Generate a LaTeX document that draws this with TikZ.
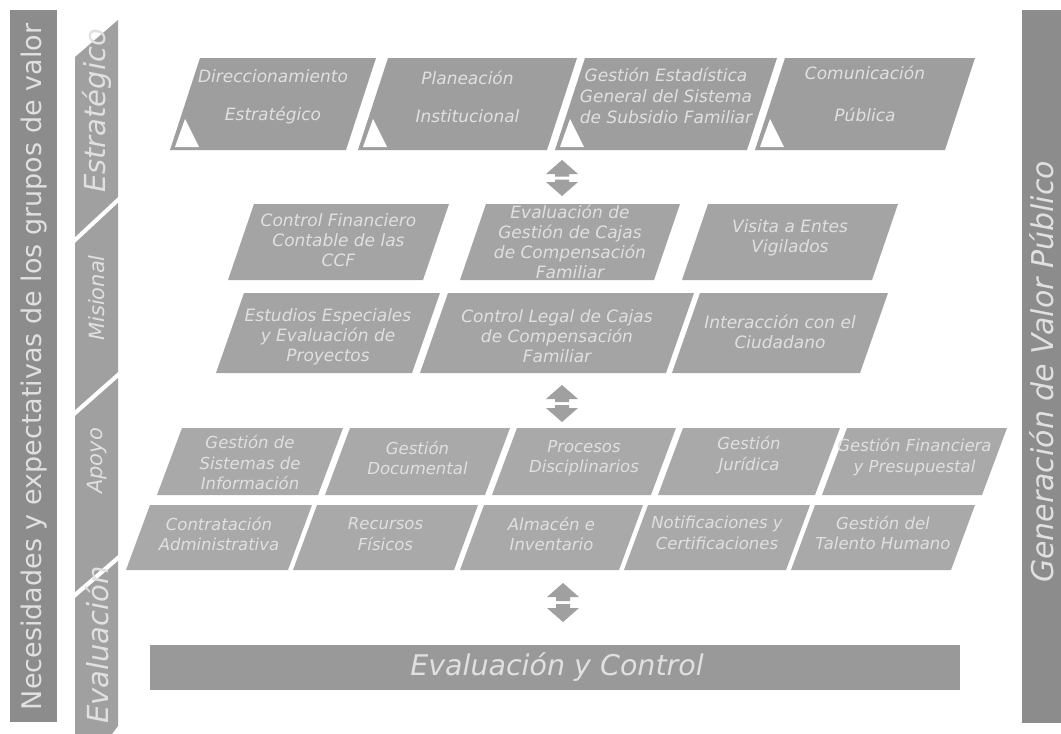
\documentclass[tikz,border=0pt]{standalone}
\usepackage{fontspec}
\setmainfont{DejaVu Sans}
\usetikzlibrary{calc}
\definecolor{sidebar}{HTML}{8C8C8C}
\definecolor{catbar}{HTML}{A0A0A0}
\definecolor{boxtop}{HTML}{9E9E9E}
\definecolor{boxmid}{HTML}{A4A4A4}
\definecolor{boxlow}{HTML}{A9A9A9}
\definecolor{evalbar}{HTML}{999999}
\definecolor{txtlight}{HTML}{E0E0E0}
\tikzset{
  boxtxt/.style={text=txtlight, font=\itshape\fontsize{17}{20}\selectfont, align=center, inner sep=0pt},
  lowtxt/.style={text=txtlight, font=\itshape\fontsize{16.5}{20.5}\selectfont, align=center, inner sep=0pt},
  cattxt/.style={text=txtlight, font=\itshape\fontsize{21}{24}\selectfont, rotate=90, inner sep=0pt},
  bigcattxt/.style={text=txtlight, font=\itshape\fontsize{29}{30}\selectfont, rotate=90, inner sep=0pt},
  sidetxt/.style={text=txtlight, font=\fontsize{27}{29}\selectfont, rotate=90, inner sep=0pt},
  rsidetxt/.style={text=txtlight, font=\itshape\fontsize{30}{32}\selectfont, rotate=90, inner sep=0pt},
  evaltxt/.style={text=txtlight, font=\itshape\fontsize{28.5}{30}\selectfont, inner sep=0pt},
}
% #1 name, #2 TL x, #3 TR x, #4 BL x, #5 BR x, #6 y top, #7 y bottom, #8 text centre y, #9 text
\newcommand\pgram[9]{%
  \fill[fillcol] (#2,#6) -- (#3,#6) -- (#5,#7) -- (#4,#7) -- cycle;
  \node[txtstyle] (#1) at ({(#2+#3+#4+#5)/4},#8) {#9};
}
% double arrow: #1 name, #2 x, #3 y top, #4 y bottom
\newcommand\dblarrow[4]{%
  \coordinate (#1) at (#2,{(#3+#4)/2});
  \fill[catbar] (#2,#3) -- ($(#2,#3)+(16,14)$) -- ($(#2,#3)+(7,14)$) -- ($(#1)+(7,-1.5)$)
     -- ($(#1)+(-7,-1.5)$) -- ($(#2,#3)+(-7,14)$) -- ($(#2,#3)+(-16,14)$) -- cycle;
  \fill[catbar] (#2,#4) -- ($(#2,#4)+(16,-14)$) -- ($(#2,#4)+(7,-14)$) -- ($(#1)+(7,1.5)$)
     -- ($(#1)+(-7,1.5)$) -- ($(#2,#4)+(-7,-14)$) -- ($(#2,#4)+(-16,-14)$) -- cycle;
}
\begin{document}
\begin{tikzpicture}[x=1pt,y=-1pt]
\useasboundingbox (0,0) rectangle (1061,734);
\fill[white] (0,0) rectangle (1061,734);

% left side bar
\fill[sidebar] (10,10) rectangle (57,722);
\node[sidetxt] (needs) at (34,367) {Necesidades y expectativas de los grupos de valor};

% right side bar
\fill[sidebar] (1022,10) rectangle (1061,723);
\node[rsidetxt] (value) at (1042,372) {Generación de Valor Público};

% category bars
\fill[catbar] (75,57) -- (118,20) -- (118,197) -- (75,237) -- cycle;
\fill[catbar] (75,243) -- (118,203) -- (118,372) -- (75,410) -- cycle;
\fill[catbar] (75,416) -- (118,378) -- (118,555) -- (75,592) -- cycle;
\fill[catbar] (75,598) -- (118,561) -- (118,726) -- (112,734) -- (75,734) -- cycle;
\node[bigcattxt] (cest) at (97,111) {Estratégico};
\node[cattxt] (cmis) at (97,298) {Misional};
\node[cattxt] (capo) at (97,461) {Apoyo};
\node[bigcattxt] (ceva) at (97,645) {Evaluación};

% strategic row
\tikzset{fillcol/.style={fill=boxtop}, txtstyle/.style={boxtxt, font=\itshape\fontsize{17}{38}\selectfont}}
\pgram{dir}{200}{376}{170}{346}{58}{150}{97}{Direccionamiento\\Estratégico}
\pgram{pla}{388}{577}{358}{547}{58}{150}{97}{Planeación\\Institucional}
\tikzset{txtstyle/.style={boxtxt, font=\itshape\fontsize{17}{21}\selectfont}}
\pgram{gest}{585}{777}{555}{747}{58}{150}{96}{Gestión Estadística\\General del Sistema\\de Subsidio Familiar}
\tikzset{txtstyle/.style={boxtxt, font=\itshape\fontsize{17}{42}\selectfont}}
\pgram{com}{785}{975}{755}{945}{58}{150}{94}{Comunicación\\Pública}
\foreach \bl in {170,358,555,755}{
  \fill[white] (\bl+5,147) -- (\bl+29,147) -- (\bl+15,119) -- cycle;
}

% misional rows
\tikzset{fillcol/.style={fill=boxmid}, txtstyle/.style={boxtxt}}
\pgram{cfin}{254}{449}{228}{423}{204}{280}{240}{Control Financiero\\Contable de las\\CCF}
\pgram{evg}{486}{680}{460}{654}{204}{280}{242}{Evaluación de\\Gestión de Cajas\\de Compensación\\Familiar}
\pgram{vis}{708}{898}{682}{872}{204}{280}{238}{Visita a Entes\\Vigilados}
\pgram{est}{244}{440}{216}{412}{293}{373}{337}{Estudios Especiales\\y Evaluación de\\Proyectos}
\pgram{cleg}{448}{694}{420}{666}{293}{373}{336}{Control Legal de Cajas\\de Compensación\\Familiar}
\pgram{int}{700}{888}{672}{860}{293}{373}{332}{Interacción con el\\Ciudadano}

% apoyo rows
\tikzset{fillcol/.style={fill=boxlow}, txtstyle/.style={lowtxt}}
\pgram{gsi}{182}{343}{157}{318}{428}{495}{463}{Gestión de\\Sistemas de\\Información}
\pgram{gdo}{350}{510}{325}{485}{428}{495}{458}{Gestión\\Documental}
\pgram{pdi}{517}{676}{492}{651}{428}{495}{458}{Procesos\\Disciplinarios}
\pgram{gju}{683}{840}{658}{815}{428}{495}{455}{Gestión\\Jurídica}
\pgram{gfi}{847}{1007}{822}{982}{428}{495}{457}{Gestión Financiera\\y Presupuestal}
\pgram{cad}{150}{312}{126}{288}{505}{570}{534}{Contratación\\Administrativa}
\pgram{rfi}{317}{478}{293}{454}{505}{570}{534}{Recursos\\Físicos}
\pgram{ain}{484}{643}{460}{619}{505}{570}{534}{Almacén e\\Inventario}
\pgram{ncer}{648}{810}{624}{786}{505}{570}{533}{Notificaciones y\\Certificaciones}
\pgram{gth}{815}{975}{791}{951}{505}{570}{533}{Gestión del\\Talento Humano}

% arrows between levels
\dblarrow{a1}{562}{160}{196}
\dblarrow{a2}{562}{385}{422}
\dblarrow{a3}{563}{583}{622}

% evaluation bar
\fill[evalbar] (150,645) rectangle (960,690);
\node[evaltxt] (evc) at (557,667) {Evaluación y Control};
\end{tikzpicture}
\end{document}
